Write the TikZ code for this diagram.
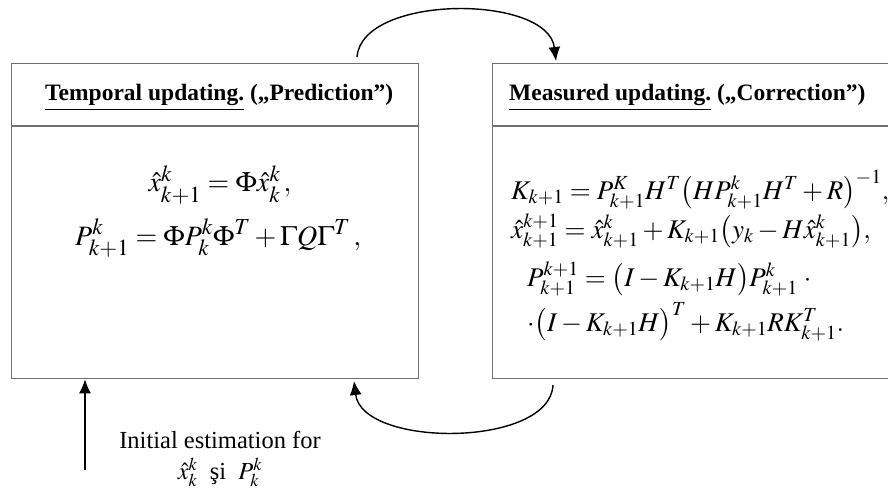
\documentclass[tikz,border=0pt]{standalone}
\usepackage{mathptmx}
\usepackage[no-math]{fontspec}
\setmainfont{Liberation Serif}
\usetikzlibrary{arrows.meta,positioning}
\DeclareMathSizes{27}{27}{20}{16}
\DeclareMathSizes{28}{28}{23}{18}
\definecolor{framegray}{HTML}{707070}
\tikzset{
  stagebox/.style={draw=framegray, line width=1.3pt, minimum width=407pt, minimum height=315pt, inner sep=0pt},
  divider/.style={draw=framegray, line width=1.3pt},
  headtext/.style={font=\fontsize{23.5}{28}\selectfont\bfseries, inner sep=0pt},
  eqtext/.style={font=\fontsize{27}{30}\selectfont, inner sep=0pt},
  bigeqtext/.style={font=\fontsize{28}{30}\selectfont, inner sep=0pt},
  notetext/.style={font=\fontsize{24.5}{28}\selectfont, inner sep=0pt},
  cycarrow/.style={-{Latex[length=14pt,width=12pt]}, line width=1.4pt},
}

\begin{document}
\begin{tikzpicture}[x=1pt, y=-1pt]
  \useasboundingbox (0,0) rectangle (888,497);
  \clip (0,0) rectangle (888,497);
  % Kaesten
  \node[stagebox, anchor=north west] (predbox) at (11,63) {};
  \node[stagebox, anchor=north west, minimum width=430pt] (corrbox) at (492,63) {};
  \draw[divider] ([yshift=-63pt]predbox.north west) -- ([yshift=-63pt]predbox.north east);
  \draw[divider] ([yshift=-63pt]corrbox.north west) -- ([yshift=-63pt]corrbox.north east);
  % Ueberschriften
  \node[headtext, anchor=base west] (predhead) at (45,101) {\underline{Temporal updating.} („Prediction”)};
  \node[headtext, anchor=base west] (corrhead) at (509,101) {\underline{Measured updating.} („Correction”)};
  % Praediktion
  \node[bigeqtext, anchor=base] (predeqa) at (220,192) {$\hat{x}^{k}_{k+1} = \Phi\hat{x}^{k}_{k}\,,$};
  \node[bigeqtext, anchor=base west] (predeqb) at (75,245) {$P^{k}_{k+1} = \Phi P^{k}_{k}\Phi^{T} + \Gamma Q\Gamma^{T}\,,$};
  % Korrektur
  \node[eqtext, anchor=base west] (correqa) at (511,199) {$K_{k+1} = P^{K}_{k+1}H^{T}\bigl(HP^{k}_{k+1}H^{T} + R\bigr)^{-1},$};
  \node[eqtext, anchor=base west] (correqb) at (511,238) {$\hat{x}^{k+1}_{k+1} = \hat{x}^{k}_{k+1} + K_{k+1}\bigl(y_{k} - H\hat{x}^{k}_{k+1}\bigr),$};
  \node[eqtext, anchor=base west] (correqc) at (527,286) {$P^{k+1}_{k+1} = \bigl(I - K_{k+1}H\bigr)P^{k}_{k+1}\;\cdot$};
  \node[eqtext, anchor=base west] (correqd) at (527,331) {$\cdot\bigl(I - K_{k+1}H\bigr)^{T} + K_{k+1}RK^{T}_{k+1}.$};
  % Anfangswerte
  \node[notetext] (initnote) at (220,440) {Initial estimation for};
  \node[notetext, anchor=base] (initvars) at (220,479) {$\hat{x}^{k}_{k}$ \ şi \ $P^{k}_{k}$};
  % Pfeile
  \coordinate (predout) at (357,57);
  \coordinate (corrin) at (556,61);
  \coordinate (corrout) at (553,385);
  \coordinate (predin) at (354,381);
  \coordinate (initsrc) at (85,470);
  \draw[cycarrow] (predout) .. controls (362,-6) and (548,-6) .. (corrin);
  \draw[cycarrow] (corrout) .. controls (550,448) and (362,448) .. (predin);
  \draw[cycarrow] (initsrc) -- (initsrc |- predbox.south);
\end{tikzpicture}
\end{document}
